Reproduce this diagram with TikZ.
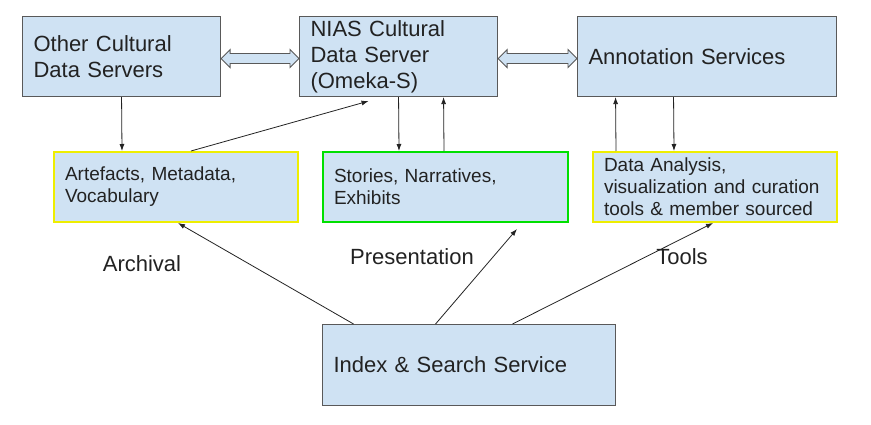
\documentclass[tikz,border=0pt]{standalone}
\usepackage{fontspec}
\setmainfont{Liberation Sans}
\usepackage{xcolor}
\usetikzlibrary{arrows.meta}
\definecolor{boxblue}{HTML}{CFE2F3}
\definecolor{boxline}{HTML}{595959}
\definecolor{txtgray}{HTML}{222222}
\definecolor{edgeyellow}{HTML}{EEEE00}
\definecolor{edgegreen}{HTML}{00E000}

\begin{document}
\begin{tikzpicture}[x=1pt,y=-1pt,
    bigbox/.style={draw=boxline, line width=1.1pt, fill=boxblue, anchor=north west,
      align=left, inner xsep=11pt, inner ysep=0pt, text=txtgray,
      font=\fontsize{22}{26}\selectfont},
    smallbox/.style={bigbox, line width=2pt, font=\fontsize{19}{22}\selectfont},
    flow/.style={draw=txtgray, line width=0.8pt, -{Latex[length=7pt,width=5pt]}},
    link/.style={draw=boxline, line width=0.9pt, fill=boxblue, line join=miter},
    lbl/.style={anchor=base, text=txtgray, font=\fontsize{22}{26}\selectfont}]
  \useasboundingbox (0,0) rectangle (871,425);
  % top row
  \node[bigbox, text width=176pt, minimum height=80pt] (other) at (22,16) {Other Cultural\\Data Servers};
  \node[bigbox, text width=176pt, minimum height=80pt] (nias) at (299,16) {NIAS Cultural\\Data Server\\(Omeka-S)};
  \node[bigbox, text width=237pt, minimum height=80pt] (annot) at (577,16) {Annotation Services};
  % double arrows between servers
  \coordinate (la) at ([yshift=-2pt]other.east);
  \coordinate (lb) at ([yshift=-2pt]nias.west);
  \coordinate (ra) at ([yshift=-2pt]nias.east);
  \coordinate (rb) at ([yshift=-2pt]annot.west);
  \foreach \p/\q in {la/lb, ra/rb}
    \draw[link] (\p) -- ++(9,-9) -- ++(0,4) -- ([xshift=-9pt,yshift=5pt]\q) -- ++(0,-4)
      -- (\q) -- ++(-9,9) -- ++(0,-4) -- ([xshift=9pt,yshift=-5pt]\p) -- ++(0,4) -- cycle;
  % middle row
  \node[smallbox, draw=edgeyellow, text width=222pt, minimum height=70pt] (arte) at (53,151) {Artefacts, Metadata,\\Vocabulary};
  \node[smallbox, draw=edgegreen, text width=223pt, minimum height=70pt] (story) at (322,151) {Stories, Narratives,\\Exhibits};
  \node[smallbox, draw=edgeyellow, text width=222pt, minimum height=70pt] (tools) at (592,151) {Data Analysis,\\visualization and curation\\tools \& member sourced};
  % bottom
  \node[bigbox, text width=271pt, minimum height=81pt] (index) at (322,324) {Index \& Search Service};
  \node[lbl] (larch) at (142,272) {Archival};
  \node[lbl] (lpres) at (412,265) {Presentation};
  \node[lbl] (ltool) at (682,265) {Tools};
  % arrows
  \draw[flow] (other.south) -- ([xshift=-54pt]arte.north);
  \draw[flow] ([xshift=15pt]arte.north) -- ([xshift=-30pt,yshift=-4pt]nias.south);
  \draw[flow] (nias.south) -- ([xshift=-46.5pt]story.north);
  \draw[flow] ([xshift=-1.5pt]story.north) -- ([xshift=45pt]nias.south);
  \draw[flow] ([xshift=-99pt]tools.north) -- ([xshift=-91.5pt]annot.south);
  \draw[flow] ([xshift=-33.5pt]annot.south) -- ([xshift=-41pt]tools.north);
  \draw[flow] ([xshift=-115.5pt]index.north) -- ([xshift=2pt]arte.south);
  \draw[flow] ([xshift=-33.5pt]index.north) -- ([xshift=71.5pt,yshift=-6pt]story.south);
  \draw[flow] ([xshift=43.5pt]index.north) -- ([xshift=-2pt]tools.south);
\end{tikzpicture}
\end{document}
